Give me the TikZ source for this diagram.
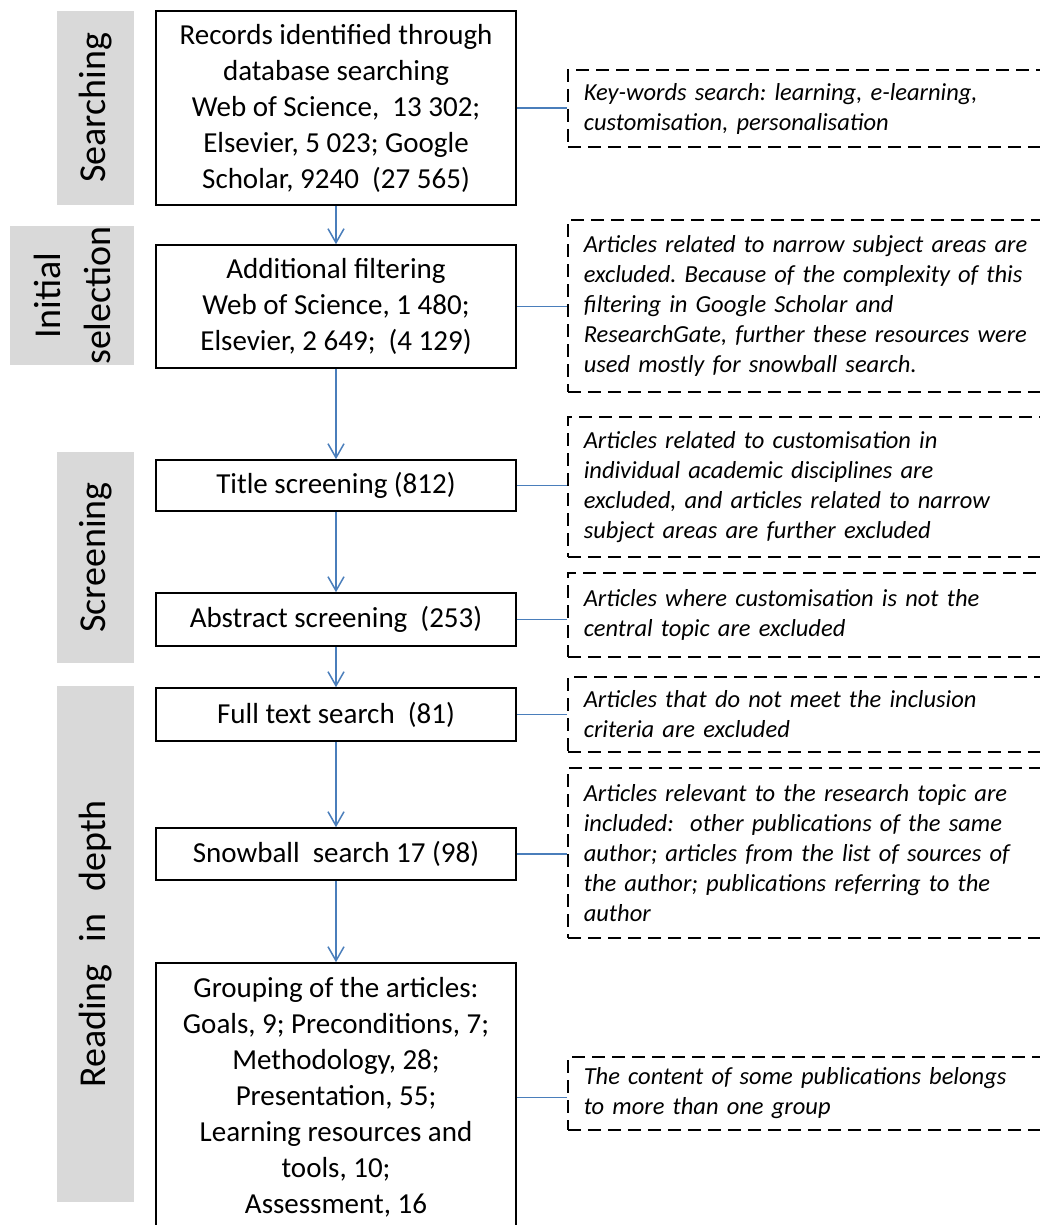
\documentclass[tikz,border=0pt]{standalone}
\usepackage{fontspec}
\setmainfont{Carlito}
\usetikzlibrary{arrows.meta}
\definecolor{conn}{RGB}{74,126,187}
\definecolor{labgray}{RGB}{217,217,217}
\frenchspacing
\begin{document}
\begin{tikzpicture}[x=1pt,y=-1pt,
  mainbox/.style={draw=black, line width=1.6pt, minimum width=360pt, align=center, font=\fontsize{29}{36}\selectfont, inner sep=0pt},
  note/.style={draw=black, dash pattern=on 13pt off 7pt, line width=1.6pt, text width=460pt, inner xsep=16pt, inner ysep=0pt, align=left, font=\fontsize{24.5}{30}\selectfont\itshape, anchor=west},
  lab/.style={fill=labgray, rotate=90, font=\fontsize{38}{50}\selectfont, align=center, inner sep=0pt},
  flow/.style={draw=conn, line width=1.5pt, -{Straight Barb[length=14pt,width=16pt]}},
  link/.style={draw=conn, line width=1.3pt}]
\path[use as bounding box, clip] (0,0) rectangle (1040,1225);

% phase labels
\node[lab, minimum width=194pt, minimum height=77pt] (l1) at (95.5,108) {Searching};
\node[lab, minimum width=133pt, minimum height=124pt] (l2) at (72,295.5) {Initial\\selection};
\node[lab, minimum width=211pt, minimum height=77pt] (l3) at (95.5,557.5) {Screening};
\node[lab, minimum width=516pt, minimum height=77pt] (l4) at (95.5,944) {Reading\hspace{22pt}in\hspace{22pt}depth};

% main boxes
\node[mainbox, minimum height=194pt] (b1) at (336,108) {Records identified through\\database searching\\Web of Science,~~13~302;\\Elsevier, 5~023; Google\\Scholar, 9240~~(27~565)};
\node[mainbox, minimum height=123pt] (b2) at (336,306.5) {Additional filtering\\Web of Science, 1~480;\\Elsevier, 2~649;~~(4~129)};
\node[mainbox, minimum height=51pt] (b3) at (336,485.5) {Title screening (812)};
\node[mainbox, minimum height=53pt] (b4) at (336,619.5) {Abstract screening~~(253)};
\node[mainbox, minimum height=53pt] (b5) at (336,714.5) {Full text search~~(81)};
\node[mainbox, minimum height=52pt] (b6) at (336,854) {Snowball~~search 17 (98)};
\node[mainbox, minimum height=269pt] (b7) at (336,1097.5) {Grouping of the articles:\\Goals, 9; Preconditions, 7;\\Methodology, 28;\\Presentation, 55;\\Learning resources and\\tools, 10;\\Assessment, 16};

% notes
\node[note, minimum height=77pt] (d1) at (567,108.5) {Key-words search: learning, e-learning,\\customisation, personalisation};
\node[note, minimum height=172pt] (d2) at (567,306) {Articles related to narrow subject areas are\\excluded. Because of the complexity of this\\filtering in Google Scholar and\\ResearchGate, further these resources were\\used mostly for snowball search.};
\node[note, minimum height=140pt] (d3) at (567,487) {Articles related to customisation in\\individual academic disciplines are\\excluded, and articles related to narrow\\subject areas are further excluded};
\node[note, minimum height=84pt] (d4) at (567,615) {Articles where customisation is not the\\central topic are excluded};
\node[note, minimum height=75pt] (d5) at (567,714.5) {Articles that do not meet the inclusion\\criteria are excluded};
\node[note, minimum height=170pt] (d6) at (567,853) {Articles relevant to the research topic are\\included:~~other publications of the same\\author; articles from the list of sources of\\the author; publications referring to the\\author};
\node[note, minimum height=73pt] (d7) at (567,1093.5) {The content of some publications belongs\\to more than one group};

% flow arrows
\draw[flow] (b1) -- (b2);
\draw[flow] (b2) -- (b3);
\draw[flow] (b3) -- (b4);
\draw[flow] (b4) -- (b5);
\draw[flow] (b5) -- (b6);
\draw[flow] (b6) -- (b7);

% links to notes
\draw[link] (b1.east) -- (b1.east -| d1.west);
\draw[link] (b2.east) -- (b2.east -| d2.west);
\draw[link] (b3.east) -- (b3.east -| d3.west);
\draw[link] (b4.east) -- (b4.east -| d4.west);
\draw[link] (b5.east) -- (b5.east -| d5.west);
\draw[link] (b6.east) -- (b6.east -| d6.west);
\draw[link] (b7.east) -- (b7.east -| d7.west);
\end{tikzpicture}
\end{document}
